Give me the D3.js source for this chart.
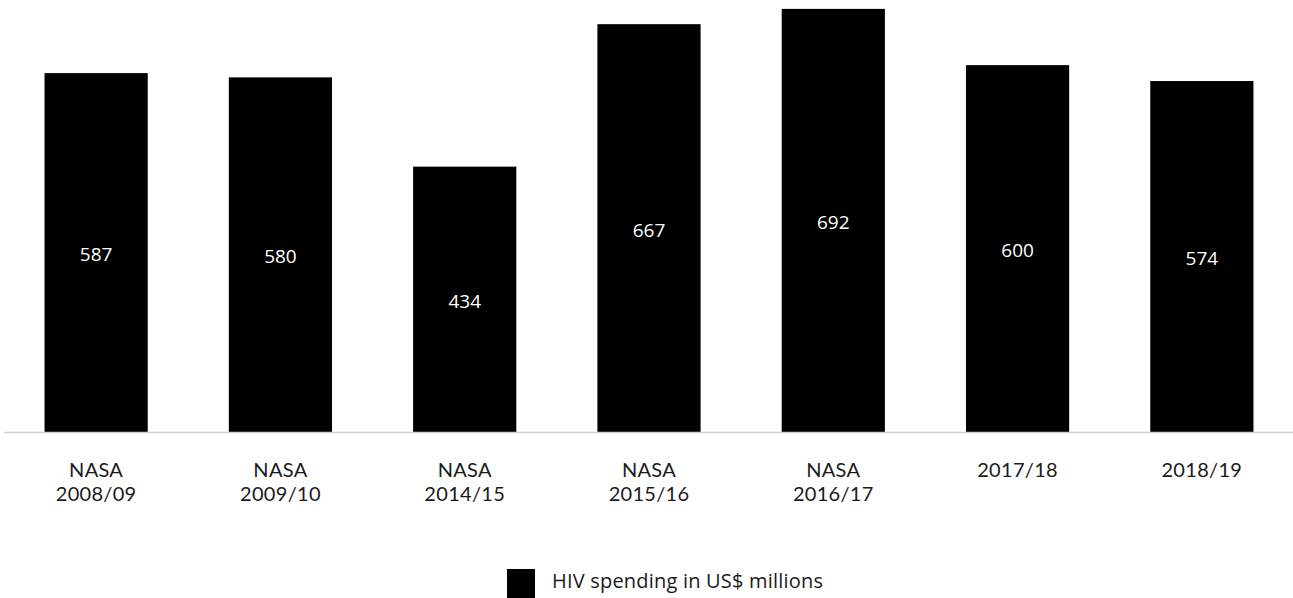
<!DOCTYPE html>
<html>
<head>
<meta charset="utf-8">
<script src="https://cdn.jsdelivr.net/npm/d3@7"></script>
<style>
  html, body { margin: 0; padding: 0; background: #fff; }
  svg { display: block; font-family: "Open Sans", "Noto Sans", sans-serif; }
  .cat { font-family: Lato, "Open Sans", sans-serif; }
</style>
</head>
<body>
<svg id="chart" width="1293" height="598"></svg>
<script>
// HIV spending per survey period (US$ millions)
const categories = [
  ["NASA", "2008/09"],
  ["NASA", "2009/10"],
  ["NASA", "2014/15"],
  ["NASA", "2015/16"],
  ["NASA", "2016/17"],
  ["2017/18"],
  ["2018/19"]
];
const values = [587, 580, 434, 667, 692, 600, 574];
const seriesName = "HIV spending in US$ millions";

const svg = d3.select("#chart");
const W = 1293;
const baseY = 432;

const keys = categories.map(c => c.join(" "));

const x = d3.scaleBand()
  .domain(keys)
  .range([4, 1294])
  .paddingInner(0.44)
  .paddingOuter(0.22);

const y = d3.scaleLinear()
  .domain([0, 700])
  .range([baseY, 4]);

// bars
svg.append("g")
  .selectAll("rect")
  .data(values)
  .join("rect")
  .attr("x", (d, i) => x(keys[i]))
  .attr("y", d => y(d))
  .attr("width", x.bandwidth())
  .attr("height", d => y(0) - y(d))
  .attr("fill", "#000");

// value labels centred inside each bar
svg.append("g")
  .selectAll("text")
  .data(values)
  .join("text")
  .attr("x", (d, i) => x(keys[i]) + x.bandwidth() / 2)
  .attr("y", d => (y(d) + y(0)) / 2 + 2)
  .attr("dy", "0.35em")
  .attr("text-anchor", "middle")
  .attr("fill", "#fff")
  .attr("font-size", 19)
  .text(d => d);

// baseline
svg.append("line")
  .attr("x1", 4).attr("x2", W)
  .attr("y1", y(0) + 0.5).attr("y2", y(0) + 0.5)
  .attr("stroke", "#cfcfcf")
  .attr("stroke-width", 1.5);

// category labels, one text element per line
const lines = [];
categories.forEach((c, i) => c.forEach((t, j) => lines.push({ key: keys[i], text: t, row: j })));
svg.append("g")
  .selectAll("text")
  .data(lines)
  .join("text")
  .attr("class", "cat")
  .attr("x", d => x(d.key) + x.bandwidth() / 2)
  .attr("y", d => 477 + d.row * 24)
  .attr("text-anchor", "middle")
  .attr("fill", "#1a1a1a")
  .attr("font-size", 20)
  .attr("letter-spacing", 0.3)
  .text(d => d.text);

// legend
const lg = svg.append("g");
lg.append("rect")
  .attr("x", 507).attr("y", 569)
  .attr("width", 28).attr("height", 29)
  .attr("fill", "#000");
lg.append("text")
  .attr("x", 552).attr("y", 588)
  .attr("fill", "#1a1a1a")
  .attr("font-size", 20)
  .attr("letter-spacing", 0.2)
  .text(seriesName);
</script>
</body>
</html>
